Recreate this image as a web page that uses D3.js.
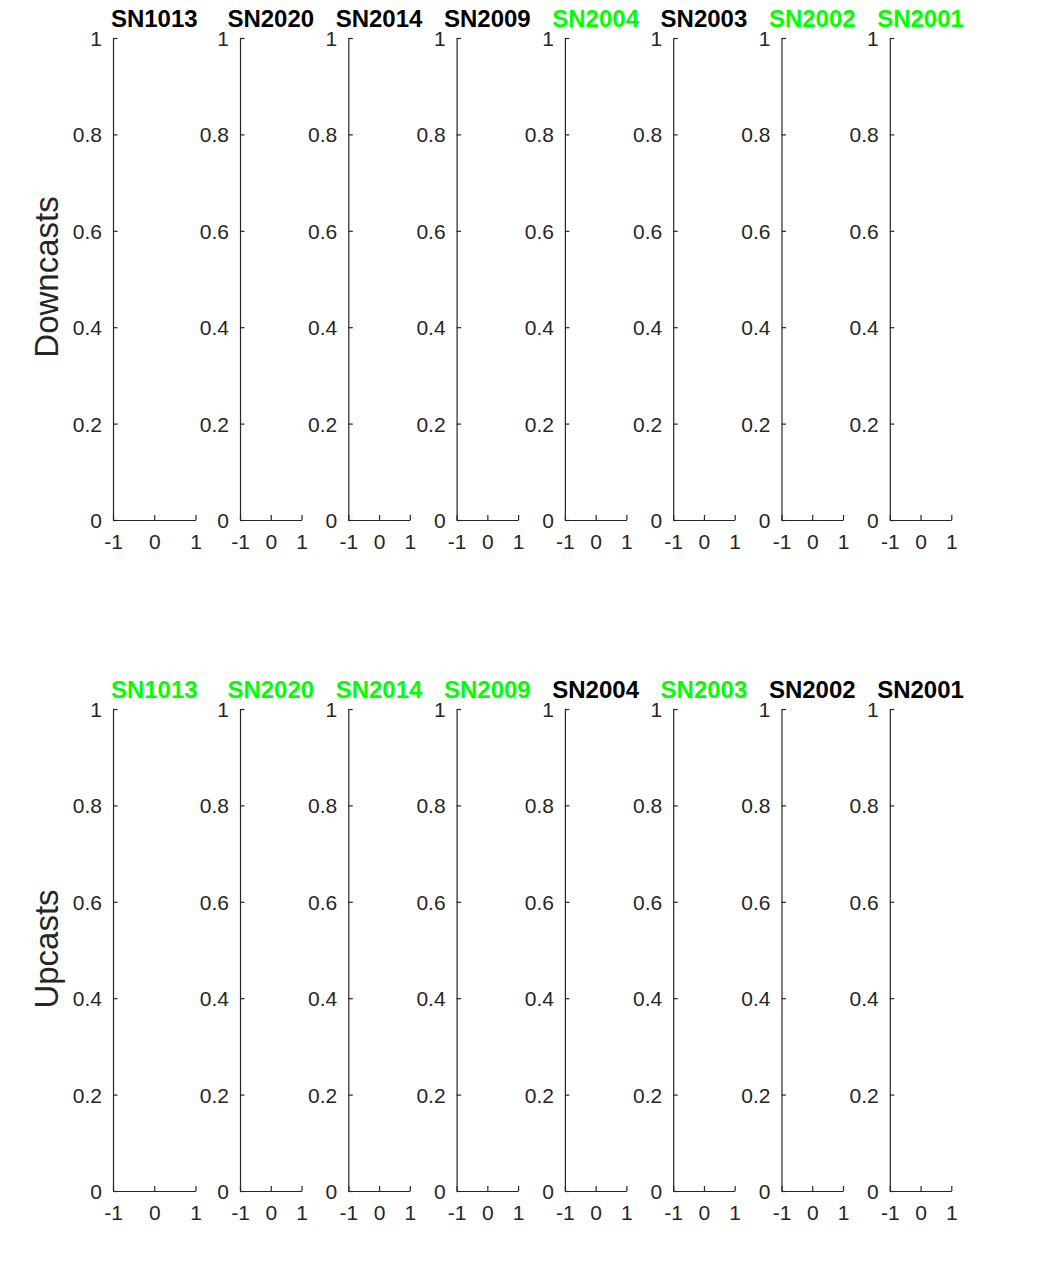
<!DOCTYPE html>
<html><head><meta charset="utf-8">
<script src="https://cdn.jsdelivr.net/npm/d3@7"></script>
<style>body{margin:0;background:#fff}svg{display:block}</style>
</head><body>
<svg id="chart" width="1050" height="1275"></svg>
<script>
const sensors = ["SN1013","SN2020","SN2014","SN2009","SN2004","SN2003","SN2002","SN2001"];
const downcastGood = [false,false,false,false,true,false,true,true];
const upcastGood   = [true,true,true,true,false,true,false,false];
const rowLabels = ["Downcasts","Upcasts"];
const yTicks = [0,0.2,0.4,0.6,0.8,1];
const yTickLabels = ["0","0.2","0.4","0.6","0.8","1"];
const xTicks = [-1,0,1];
const xTickLabels = ["-1","0","1"];

const svg = d3.select("#chart");
const axisColor = "#262626";
const green = "#00ff00";
const font = "'Liberation Sans', Arial, Helvetica, sans-serif";

const rows = [
  {label: rowLabels[0], good: downcastGood, top: 38, bottom: 520, labelY: 277},
  {label: rowLabels[1], good: upcastGood, top: 709, bottom: 1191, labelY: 949}
];

function panelBox(i){
  if(i===0) return [113, 195.5];
  const l = 240 + (i-1)*108.3;
  return [l, l+61.5];
}

rows.forEach(row => {
  const y = d3.scaleLinear().domain([0,1]).range([row.bottom, row.top]);
  sensors.forEach((s,i) => {
    const [x0,x1] = panelBox(i);
    const x = d3.scaleLinear().domain([-1,1]).range([x0,x1]);
    const g = svg.append("g");
    const ya = g.append("g").attr("transform", `translate(${x0},0)`)
      .call(d3.axisLeft(y).tickValues(yTicks).tickFormat((d,k)=>yTickLabels[k]).tickSizeInner(-4.5).tickSizeOuter(0).tickPadding(11));
    const xa = g.append("g").attr("transform", `translate(0,${row.bottom})`)
      .call(d3.axisBottom(x).tickValues(xTicks).tickFormat((d,k)=>xTickLabels[k]).tickSizeInner(-5).tickSizeOuter(0).tickPadding(15));
    [ya,xa].forEach(a=>{
      a.select(".domain").attr("stroke",axisColor).attr("stroke-width",1.2);
      a.selectAll(".tick line").attr("stroke",axisColor).attr("stroke-width",1.2);
      a.selectAll(".tick text").attr("fill",axisColor).style("font-family",font).style("font-size","21px");
    });
    ya.selectAll(".tick text").attr("dy","0.36em");
    xa.selectAll(".tick text").attr("dy","0.68em");
    g.append("text").attr("x",(x0+x1)/2).attr("y",row.top-11)
      .attr("text-anchor","middle").style("font-family",font).style("font-size","24px")
      .style("font-weight","bold").attr("fill", row.good[i] ? green : "#000").text(s);
  });
  svg.append("text").attr("transform",`translate(58,${row.labelY}) rotate(-90)`)
    .attr("text-anchor","middle").style("font-family",font).style("font-size","33px")
    .attr("fill",axisColor).text(row.label);
});
</script>
</body></html>
